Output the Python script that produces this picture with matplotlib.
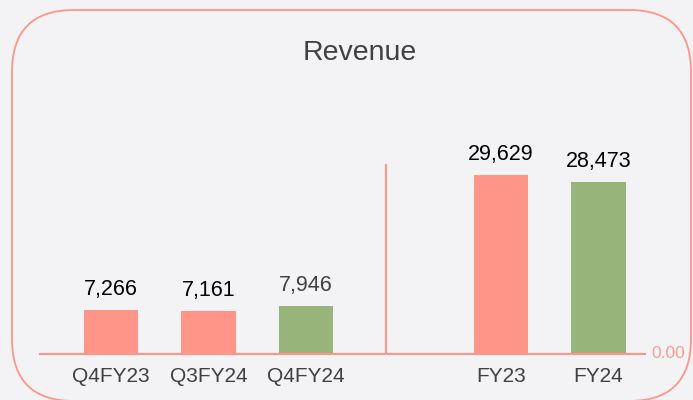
import matplotlib
matplotlib.use("Agg")
import matplotlib.pyplot as plt
from matplotlib.patches import FancyBboxPatch

categories = ["Q4FY23", "Q3FY24", "Q4FY24", "FY23", "FY24"]
values = [7266, 7161, 7946, 29629, 28473]
positions = [0, 1, 2, 4, 5]
bar_colors = ["#FF9488", "#FF9488", "#97B47A", "#FF9488", "#97B47A"]
label_colors = ["#000000", "#000000", "#404040", "#000000", "#000000"]
title = "Revenue"

plt.rcParams['font.family'] = ['Liberation Sans', 'DejaVu Sans']
W, H = 693, 400
bg = "#F3F3F5"
salmon = "#FF9488"
fig = plt.figure(figsize=(W / 100, H / 100), dpi=100, facecolor=bg)

# background axes in pixel units for rounded frame
bax = fig.add_axes([0, 0, 1, 1], zorder=0)
bax.set_xlim(0, W)
bax.set_ylim(H, 0)
bax.axis("off")
box = FancyBboxPatch((12, 10), 679, 391, boxstyle="round,pad=0,rounding_size=62",
                     fill=False, edgecolor=salmon, linewidth=1.3)
bax.add_patch(box)
bax.text(360, 53, title, ha="center", va="center", fontsize=20.5, color="#404040")

# main axes
left_px, right_px = 40, 645
base_px, top_px = 354, 100
ax = fig.add_axes([left_px / W, (H - base_px) / H, (right_px - left_px) / W, (base_px - top_px) / H], zorder=1)
ax.set_facecolor("none")
ax.set_xlim(-0.73, 5.48)
ax.set_ylim(0, 42050)
ax.bar(positions, values, width=0.56, color=bar_colors)
for p, v, c in zip(positions, values, label_colors):
    ax.annotate(f"{v:,}", (p, v), xytext=(0, 10), textcoords="offset pixels",
                ha="center", va="bottom", fontsize=15.5, color=c)
for s in ["top", "left", "right"]:
    ax.spines[s].set_visible(False)
ax.spines["bottom"].set_color(salmon)
ax.spines["bottom"].set_linewidth(1.5)
ax.set_yticks([])
ax.set_xticks(positions)
ax.set_xticklabels(categories, fontsize=15, color="#404040")
ax.tick_params(axis="x", length=0, pad=9)
ax.axvline(2.82, ymin=0, ymax=(354 - 165) / (354 - 100), color=salmon, linewidth=1.5)
ax.text(1.01, 0, "0.00", transform=ax.get_yaxis_transform(), ha="left", va="center",
        fontsize=12.5, color="#FF9B90")

fig.savefig("out.png", dpi=100, facecolor=bg)
